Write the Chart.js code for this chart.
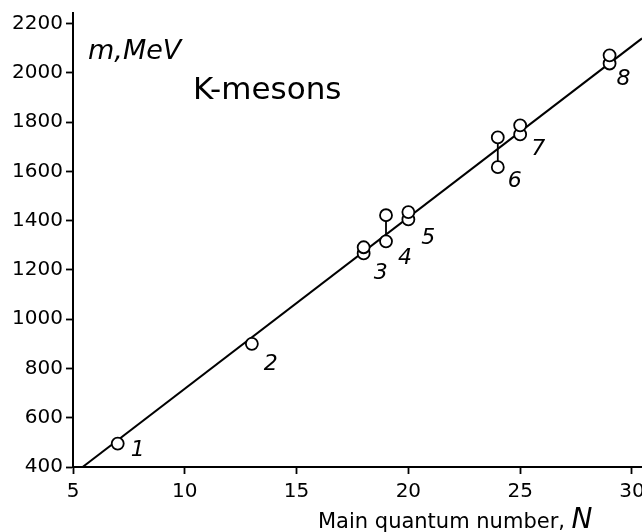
<!DOCTYPE html>
<html>
<head>
<meta charset="utf-8">
<script src="https://cdn.jsdelivr.net/npm/chart.js@4"></script>
<style>
  body { margin: 0; background: #fff; }
  #wrap { width: 642px; height: 532px; }
</style>
</head>
<body>
<div id="wrap"><canvas id="kChart" width="642" height="532"></canvas></div>
<script>
// K-meson masses vs main quantum number
const kN = [7, 13, 18, 19, 20, 24, 25, 29];
const kMassLow = [495, 900, 1267, 1316, 1405, 1617, 1750, 2038];
const kMassHigh = [null, null, 1292, 1422, 1435, 1738, 1787, 2071];
const kLabels = ['1', '2', '3', '4', '5', '6', '7', '8'];
const linkedGroups = [3, 5]; // groups with a vertical bar between the two circles

// straight fit line
const fitN = [5.43, 30.45];
const fitM = [400, 2140];

const xTicks = [5, 10, 15, 20, 25, 30];
const yTicks = [400, 600, 800, 1000, 1200, 1400, 1600, 1800, 2000, 2200];

const FONT = '"DejaVu Sans", Verdana, sans-serif';

// label offsets from the lower circle of each group (pixels)
const labelOffsets = [[20, 7], [19, 20], [17, 20], [19, 17], [20, 19], [17, 14], [18, 15], [14, 16]];

let points = [];
kN.forEach((n, i) => {
    points.push({x: n, y: kMassLow[i]});
    if (kMassHigh[i] != null) points.push({x: n, y: kMassHigh[i]});
});

let datasets = [{
    label: 'K-mesons',
    data: points,
    showLine: false,
    pointRadius: 6,
    pointHoverRadius: 6,
    pointBackgroundColor: '#fff',
    pointBorderColor: '#000',
    pointBorderWidth: 1.8,
}];

linkedGroups.forEach(i => {
    datasets.push({
        data: [{x: kN[i], y: kMassLow[i]}, {x: kN[i], y: kMassHigh[i]}],
        showLine: true,
        borderColor: '#000',
        borderWidth: 1.8,
        pointRadius: 0,
    });
});

datasets.push({
    label: 'fit',
    data: fitN.map((n, i) => ({x: n, y: fitM[i]})),
    showLine: true,
    borderColor: '#000',
    borderWidth: 2,
    pointRadius: 0,
});

// text drawn on top of the chart
const textPlugin = {
    id: 'texts',
    afterDraw(chart) {
        const ctx = chart.ctx;
        const xs = chart.scales.x, ys = chart.scales.y;
        ctx.save();
        ctx.fillStyle = '#000';

        ctx.textAlign = 'center';
        ctx.textBaseline = 'middle';
        ctx.font = 'italic 22px ' + FONT;
        kN.forEach((n, i) => {
            let px = xs.getPixelForValue(n) + labelOffsets[i][0];
            let py = ys.getPixelForValue(kMassLow[i]) + labelOffsets[i][1];
            ctx.fillText(kLabels[i], px, py);
        });

        ctx.textAlign = 'left';
        ctx.textBaseline = 'alphabetic';
        ctx.font = 'italic 27px ' + FONT;
        ctx.fillText('m,MeV', 88, 59);

        ctx.font = '31px ' + FONT;
        ctx.fillText('K-mesons', 193, 99);

        ctx.font = '21px ' + FONT;
        let t = 'Main quantum number, ';
        ctx.fillText(t, 318, 528);
        let w = ctx.measureText(t).width;
        ctx.font = 'italic 28px ' + FONT;
        ctx.fillText('N', 318 + w, 528);
        ctx.restore();
    }
};

new Chart(document.getElementById('kChart'), {
    type: 'scatter',
    data: {datasets: datasets},
    options: {
        responsive: false,
        animation: false,
        layout: {autoPadding: false, padding: {top: 13, right: 0, left: 0, bottom: 0}},
        plugins: {legend: {display: false}, tooltip: {enabled: false}},
        scales: {
            x: {
                type: 'linear',
                min: 5,
                max: 30.45,
                afterBuildTicks: (s) => { s.ticks = xTicks.map(v => ({value: v})); },
                afterFit: (s) => { s.height = 65; s.paddingLeft = 0; s.paddingRight = 0; },
                ticks: {color: '#000', font: {family: FONT, size: 20}, padding: 6, maxRotation: 0,
                        callback: (v) => String(v)},
                grid: {drawOnChartArea: false, tickLength: 7, tickWidth: 1.8, tickColor: '#000'},
                border: {color: '#000', width: 2},
            },
            y: {
                type: 'linear',
                min: 400,
                max: 2243,
                afterBuildTicks: (s) => { s.ticks = yTicks.map(v => ({value: v})); },
                afterFit: (s) => { s.width = 73; s.paddingTop = 0; s.paddingBottom = 0; },
                ticks: {color: '#000', font: {family: FONT, size: 20}, padding: 3,
                        callback: (v) => String(v)},
                grid: {drawOnChartArea: false, tickLength: 7, tickWidth: 1.8, tickColor: '#000'},
                border: {color: '#000', width: 2},
            },
        },
    },
    plugins: [textPlugin],
});
</script>
</body>
</html>
